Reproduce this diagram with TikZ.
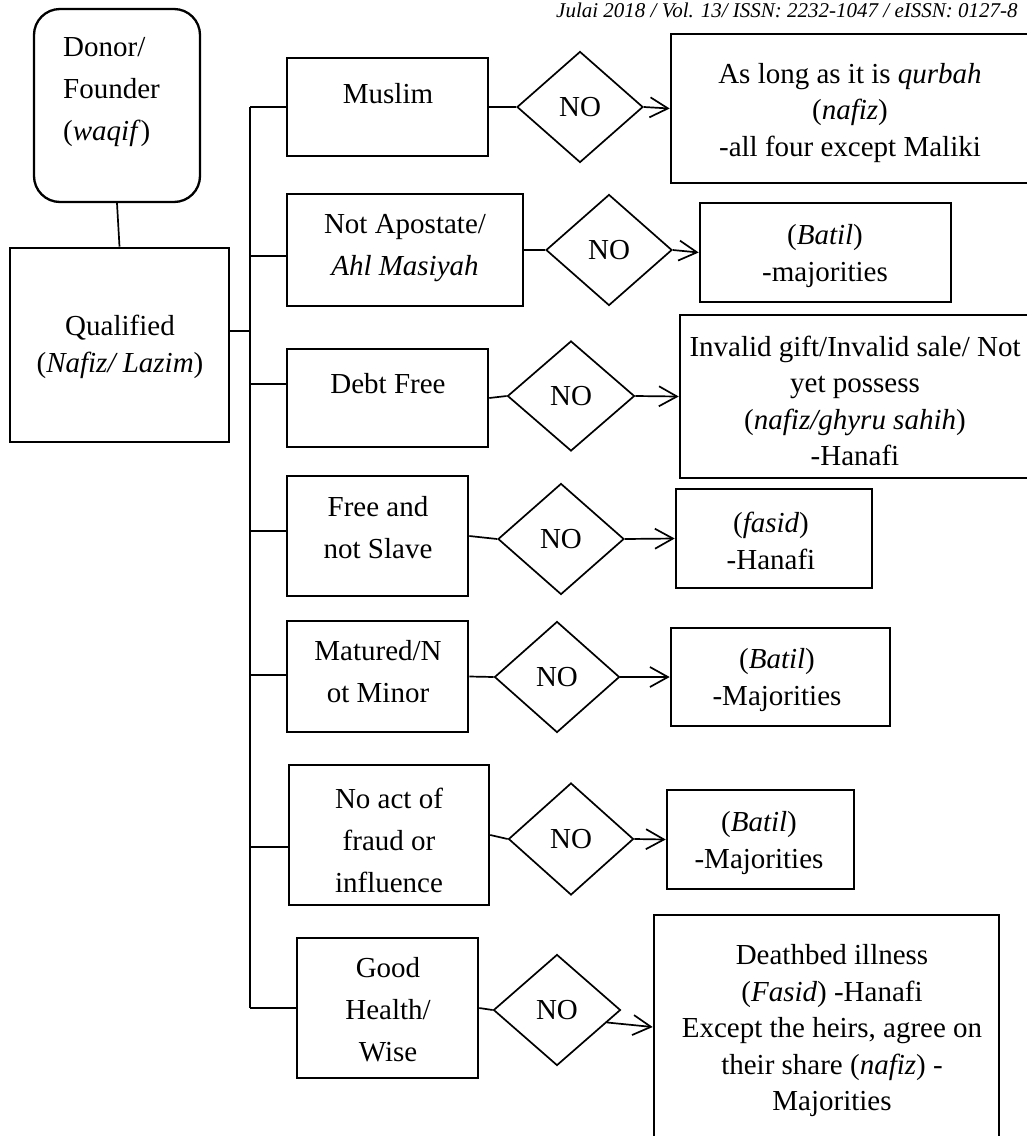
\documentclass[tikz,border=0pt]{standalone}
\usepackage{fontspec}
\setmainfont{Liberation Serif}
\usetikzlibrary{shapes.geometric,arrows.meta}
\begin{document}
\begin{tikzpicture}[x=1pt,y=-1pt,
  cond/.style={draw,line width=2.6pt,rectangle,inner sep=0pt},
  res/.style={draw,line width=2.6pt,rectangle,inner sep=0pt},
  rbox/.style={draw,line width=2.3pt,rectangle,rounded corners=26pt,inner sep=0pt},
  dia/.style={draw,line width=1.7pt,diamond,inner sep=0pt,font=\fontsize{29}{36}\selectfont},
  ltxt/.style={inner sep=0pt,align=center,font=\fontsize{29}{42}\selectfont},
  rtxt/.style={inner sep=0pt,align=center,font=\fontsize{29}{36.5}\selectfont},
  conn/.style={line width=1.7pt},
  arr/.style={line width=1.7pt,-{Straight Barb[length=18pt,width=20pt,line width=1.7pt]}}]
\useasboundingbox (0,0) rectangle (1027,1136);
% header fragment
\node[inner sep=0pt,anchor=base west,font=\fontsize{21}{24}\selectfont\itshape] (hdr) at (556,17) {Julai 2018 / Vol. 13/ ISSN: 2232-1047 / eISSN: 0127-8};
% left column
\node[rbox,minimum width=166pt,minimum height=193pt] (donor) at (117,105.5) {};
\node[inner sep=0pt,align=left,anchor=west,font=\fontsize{29}{42}\selectfont] (donorT) at (63,92) {Donor/\\Founder\\(\textit{waqif})};
\node[cond,minimum width=219pt,minimum height=194pt] (qual) at (119.5,345) {};
\node[rtxt] (qualT) at (120,347) {Qualified\\(\textit{Nafiz/ Lazim})};
% condition boxes
\node[cond,minimum width=201pt,minimum height=98pt] (muslim) at (387.5,107) {};
\node[ltxt] (muslimT) at (388,94) {Muslim};
\node[cond,minimum width=236pt,minimum height=112pt] (apost) at (405,250) {};
\node[ltxt] (apostT) at (405,248) {Not Apostate/\\\textit{Ahl Masiyah}};
\node[cond,minimum width=201pt,minimum height=98pt] (debt) at (387.5,398) {};
\node[ltxt] (debtT) at (388,384) {Debt Free};
\node[cond,minimum width=181pt,minimum height=120pt] (free) at (377.5,536) {};
\node[ltxt] (freeT) at (378,528) {Free and\\not Slave};
\node[cond,minimum width=181pt,minimum height=111pt] (mature) at (377.5,676.5) {};
\node[ltxt] (matureT) at (378,672) {Matured/N\\ot Minor};
\node[cond,minimum width=200pt,minimum height=140pt] (noact) at (389,835) {};
\node[ltxt] (noactT) at (389,840) {No act of\\fraud or\\influence};
\node[cond,minimum width=181pt,minimum height=140pt] (health) at (387.5,1008) {};
\node[ltxt] (healthT) at (388,1010) {Good\\Health/\\Wise};
% diamonds
\node[dia,minimum width=126pt,minimum height=111pt] (d1) at (580,107) {NO};
\node[dia,minimum width=126pt,minimum height=111pt] (d2) at (609,250) {NO};
\node[dia,minimum width=127pt,minimum height=110pt] (d3) at (571,396) {NO};
\node[dia,minimum width=126pt,minimum height=111pt] (d4) at (561,539) {NO};
\node[dia,minimum width=125pt,minimum height=111pt] (d5) at (557,677) {NO};
\node[dia,minimum width=125pt,minimum height=112pt] (d6) at (571,839) {NO};
\node[dia,minimum width=127pt,minimum height=111pt] (d7) at (557,1010) {NO};
% result boxes
\node[res,minimum width=369pt,minimum height=149pt] (r1) at (855.5,108.5) {};
\node[rtxt] (r1T) at (850,113) {As long as it is \textit{qurbah}\\(\textit{nafiz})\\-all four except Maliki};
\node[res,minimum width=251pt,minimum height=99pt] (r2) at (825.5,252.5) {};
\node[rtxt] (r2T) at (825,256) {(\textit{Batil})\\-majorities};
\node[res,minimum width=360pt,minimum height=163pt] (r3) at (860,396.5) {};
\node[rtxt] (r3T) at (855,401) {Invalid gift/Invalid sale/ Not\\yet possess\\(\textit{nafiz/ghyru sahih})\\-Hanafi};
\node[res,minimum width=196pt,minimum height=99pt] (r4) at (774,538.5) {};
\node[rtxt] (r4T) at (771,541) {(\textit{fasid})\\-Hanafi};
\node[res,minimum width=219pt,minimum height=98pt] (r5) at (780.5,677) {};
\node[rtxt] (r5T) at (777,680) {(\textit{Batil})\\-Majorities};
\node[res,minimum width=187pt,minimum height=99pt] (r6) at (760.5,839.5) {};
\node[rtxt] (r6T) at (759,843) {(\textit{Batil})\\-Majorities};
\node[res,minimum width=345pt,minimum height=224pt] (r7) at (826.5,1027) {};
\node[rtxt] (r7T) at (832,1031) {Deathbed illness\\(\textit{Fasid}) -Hanafi\\Except the heirs, agree on\\their share (\textit{nafiz}) -\\Majorities};
% bus coordinates
\coordinate (bq) at (250,331);
\coordinate (b1) at (250,107);
\coordinate (b2) at (250,256);
\coordinate (b3) at (250,384);
\coordinate (b4) at (250,531);
\coordinate (b5) at (250,675);
\coordinate (b6) at (250,847);
\coordinate (b7) at (250,1008);
% connectors
\draw[conn] (donor.south) -- (qual.north);
\draw[conn] (bq -| qual.east) -- (bq);
\draw[conn] (b1) -- (b7);
\draw[conn] (b1) -- (b1 -| muslim.west);
\draw[conn] (b2) -- (b2 -| apost.west);
\draw[conn] (b3) -- (b3 -| debt.west);
\draw[conn] (b4) -- (b4 -| free.west);
\draw[conn] (b5) -- (b5 -| mature.west);
\draw[conn] (b6) -- (b6 -| noact.west);
\draw[conn] (b7) -- (b7 -| health.west);
\draw[conn] (muslim.east) -- (d1.west);
\draw[conn] (apost.east) -- (d2.west);
\draw[conn] (debt.east) -- (d3.west);
\draw[conn] (free.east) -- (d4.west);
\draw[conn] (mature.east) -- (d5.west);
\draw[conn] (noact.east) -- (d6.west);
\draw[conn] (health.east) -- (d7.west);
\draw[arr] (d1.east) -- (r1.west);
\draw[arr] (d2.east) -- (r2.west);
\draw[arr] (d3.east) -- (r3.west);
\draw[arr] (d4.east) -- (r4.west);
\draw[arr] (d5.east) -- (r5.west);
\draw[arr] (d6.east) -- (r6.west);
\draw[arr] (d7.-14) -- (r7.west);
\end{tikzpicture}
\end{document}
